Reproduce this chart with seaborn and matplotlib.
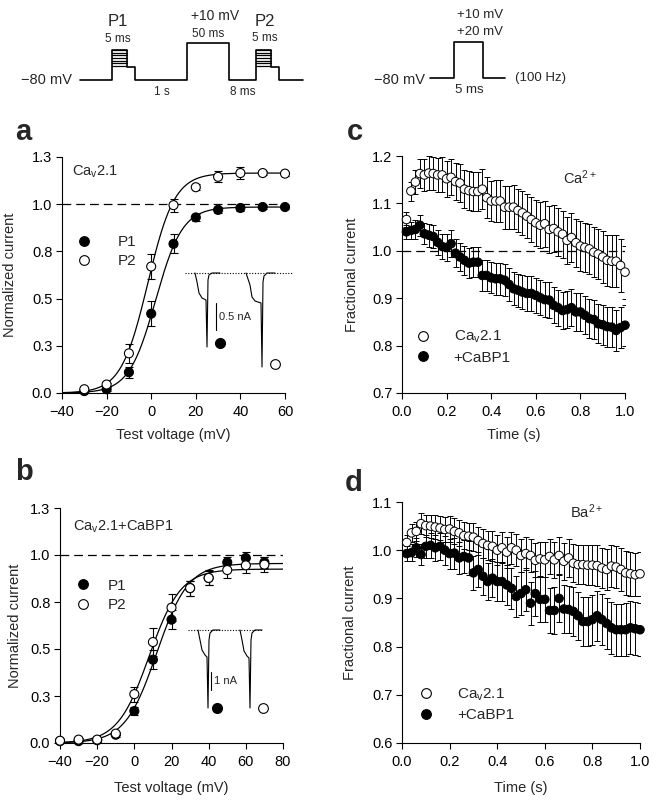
import numpy as np
import pandas as pd
import matplotlib
matplotlib.use("Agg")
import matplotlib.pyplot as plt
from matplotlib.lines import Line2D
import seaborn as sns

## data

# a: Cav2.1, normalized current vs test voltage
volt_a = [-30, -20, -10, 0, 10, 20, 30, 40, 50, 60]
a_p1 = [0.01, 0.02, 0.11, 0.42, 0.79, 0.93, 0.97, 0.98, 0.985, 0.985]
a_p1_err = [0.01, 0.01, 0.03, 0.065, 0.05, 0.02, 0.015, 0.015, 0.01, 0.01]
a_p2 = [0.02, 0.045, 0.21, 0.67, 0.995, 1.09, 1.145, 1.165, 1.165, 1.162]
a_p2_err = [0.01, 0.01, 0.05, 0.065, 0.035, 0.015, 0.03, 0.03, 0.01, 0.01]
fit_a_p1 = (0.985, 2.0, 6.0)    # Imax, V1/2, k of the Boltzmann fit
fit_a_p2 = (1.165, -1.5, 6.0)

# b: Cav2.1 + CaBP1
volt_b = [-40, -30, -20, -10, 0, 10, 20, 30, 40, 50, 60, 70]
b_p1 = [0.01, 0.01, 0.015, 0.044, 0.17, 0.443, 0.656, 0.824, 0.878, 0.961, 0.984, 0.961]
b_p1_err = [0.01, 0.01, 0.01, 0.01, 0.02, 0.05, 0.05, 0.04, 0.035, 0.03, 0.03, 0.03]
b_p2 = [0.012, 0.018, 0.018, 0.05, 0.26, 0.537, 0.72, 0.824, 0.878, 0.92, 0.945, 0.949]
b_p2_err = [0.01, 0.01, 0.01, 0.01, 0.04, 0.075, 0.07, 0.04, 0.04, 0.04, 0.04, 0.04]
fit_b_p1 = (0.955, 12.0, 8.5)
fit_b_p2 = (0.925, 8.0, 8.5)

# c, d: fractional current during 100 Hz train
time_s = [0.02, 0.04, 0.06, 0.08, 0.10, 0.12, 0.14, 0.16, 0.18, 0.20,
          0.22, 0.24, 0.26, 0.28, 0.30, 0.32, 0.34, 0.36, 0.38, 0.40,
          0.42, 0.44, 0.46, 0.48, 0.50, 0.52, 0.54, 0.56, 0.58, 0.60,
          0.62, 0.64, 0.66, 0.68, 0.70, 0.72, 0.74, 0.76, 0.78, 0.80,
          0.82, 0.84, 0.86, 0.88, 0.90, 0.92, 0.94, 0.96, 0.98, 1.00]

c_open = [1.066, 1.126, 1.145, 1.163, 1.160, 1.164, 1.163, 1.160, 1.160, 1.152,
          1.155, 1.146, 1.143, 1.130, 1.127, 1.125, 1.125, 1.130, 1.112, 1.105,
          1.105, 1.105, 1.092, 1.092, 1.092, 1.085, 1.080, 1.073, 1.066, 1.059,
          1.054, 1.057, 1.045, 1.047, 1.040, 1.035, 1.022, 1.028, 1.017, 1.010,
          1.007, 1.004, 0.997, 0.993, 0.987, 0.980, 0.978, 0.978, 0.969, 0.955]
c_open_err = [0.015, 0.020, 0.025, 0.030, 0.033, 0.035, 0.035, 0.036, 0.037, 0.038,
              0.038, 0.039, 0.040, 0.040, 0.041, 0.041, 0.042, 0.042, 0.043, 0.043,
              0.044, 0.044, 0.045, 0.045, 0.046, 0.046, 0.046, 0.047, 0.047, 0.048,
              0.048, 0.048, 0.049, 0.049, 0.050, 0.050, 0.050, 0.051, 0.051, 0.052,
              0.052, 0.052, 0.053, 0.053, 0.054, 0.054, 0.055, 0.055, 0.056, 0.056]
c_filled = [1.040, 1.043, 1.045, 1.054, 1.036, 1.033, 1.030, 1.018, 1.009, 1.007,
            1.015, 0.995, 0.987, 0.980, 0.974, 0.976, 0.976, 0.948, 0.948, 0.943,
            0.941, 0.941, 0.938, 0.929, 0.920, 0.917, 0.913, 0.910, 0.910, 0.906,
            0.901, 0.897, 0.896, 0.885, 0.880, 0.874, 0.876, 0.880, 0.871, 0.871,
            0.864, 0.857, 0.855, 0.846, 0.844, 0.840, 0.839, 0.832, 0.838, 0.843]
c_filled_err = [0.015, 0.018, 0.020, 0.022, 0.022, 0.024, 0.025, 0.026, 0.027, 0.028,
                0.028, 0.029, 0.030, 0.030, 0.031, 0.031, 0.032, 0.032, 0.033, 0.033,
                0.034, 0.034, 0.034, 0.035, 0.035, 0.035, 0.036, 0.036, 0.036, 0.037,
                0.037, 0.037, 0.038, 0.038, 0.038, 0.039, 0.039, 0.039, 0.040, 0.040,
                0.040, 0.041, 0.041, 0.041, 0.042, 0.042, 0.042, 0.043, 0.043, 0.043]

d_open = [1.016, 1.036, 1.039, 1.055, 1.051, 1.050, 1.048, 1.046, 1.043, 1.044,
          1.039, 1.036, 1.030, 1.029, 1.027, 1.020, 1.014, 1.010, 1.008, 1.000,
          1.005, 0.996, 1.005, 1.000, 0.989, 0.993, 0.989, 0.979, 0.982, 0.980,
          0.987, 0.980, 0.989, 0.977, 0.984, 0.973, 0.970, 0.970, 0.969, 0.969,
          0.968, 0.963, 0.960, 0.967, 0.965, 0.960, 0.953, 0.951, 0.949, 0.951]
d_open_err = [0.015, 0.018, 0.020, 0.022, 0.023, 0.024, 0.025, 0.025, 0.026, 0.026,
              0.027, 0.027, 0.028, 0.028, 0.029, 0.029, 0.030, 0.030, 0.031, 0.031,
              0.032, 0.032, 0.033, 0.033, 0.034, 0.034, 0.035, 0.035, 0.036, 0.036,
              0.037, 0.037, 0.038, 0.038, 0.039, 0.039, 0.040, 0.040, 0.041, 0.041,
              0.042, 0.042, 0.043, 0.043, 0.044, 0.044, 0.045, 0.045, 0.045, 0.045]
d_filled = [0.993, 0.995, 1.005, 0.991, 1.008, 1.010, 1.005, 1.008, 1.000, 0.993,
            0.994, 0.984, 0.987, 0.984, 0.953, 0.960, 0.946, 0.935, 0.942, 0.935,
            0.935, 0.928, 0.921, 0.904, 0.910, 0.918, 0.890, 0.910, 0.898, 0.898,
            0.875, 0.875, 0.900, 0.878, 0.877, 0.873, 0.864, 0.852, 0.852, 0.856,
            0.864, 0.856, 0.848, 0.839, 0.835, 0.835, 0.835, 0.839, 0.837, 0.835]
d_filled_err = [0.015, 0.018, 0.020, 0.022, 0.024, 0.026, 0.027, 0.028, 0.030, 0.031,
                0.032, 0.033, 0.034, 0.035, 0.036, 0.037, 0.038, 0.039, 0.040, 0.041,
                0.041, 0.042, 0.043, 0.043, 0.044, 0.045, 0.045, 0.046, 0.046, 0.047,
                0.047, 0.048, 0.048, 0.049, 0.049, 0.050, 0.050, 0.051, 0.051, 0.052,
                0.052, 0.053, 0.053, 0.054, 0.054, 0.054, 0.055, 0.055, 0.055, 0.055]

## style
sns.set_theme(style="ticks")
plt.rcParams["font.family"] = ["Liberation Sans", "DejaVu Sans"]
plt.rcParams["mathtext.fontset"] = "custom"
plt.rcParams["mathtext.rm"] = "Liberation Sans"
plt.rcParams["mathtext.default"] = "regular"
FS = 10.5
W, H = 658, 808

fig = plt.figure(figsize=(W / 100, H / 100), dpi=100)


def px_axes(x0, y0, x1, y1):
    # axes placed by pixel box (top-left origin)
    return fig.add_axes([x0 / W, 1 - y1 / H, (x1 - x0) / W, (y1 - y0) / H])


def boltz(v, imax, vh, k):
    return imax / (1 + np.exp((vh - v) / k))


def style_axes(ax):
    sns.despine(ax=ax)
    for s in ["left", "bottom"]:
        ax.spines[s].set_linewidth(0.8)
        ax.spines[s].set_color("black")
    ax.tick_params(direction="out", length=4, width=0.8, labelsize=FS, colors="black")
    ax.tick_params(axis="x", pad=5)
    ax.tick_params(axis="y", pad=3)


def legend(ax, labels, fills, x, y, pad):
    hs = [Line2D([], [], marker="o", ls="none", mfc=f, mec="black", mew=0.8, ms=7) for f in fills]
    ax.legend(hs, labels, loc="upper left", bbox_to_anchor=(x, y), frameon=False,
              fontsize=FS + 0.5, handlelength=1.0, handletextpad=pad, labelspacing=0.35,
              borderpad=0, borderaxespad=0)


def iv_panel(ax, volt, p1, p1e, p2, p2e, f1, f2, vmin, vmax):
    v = np.linspace(vmin, vmax, 300)
    curves = pd.DataFrame({
        "v": np.concatenate([v, v]),
        "i": np.concatenate([boltz(v, *f1), boltz(v, *f2)]),
        "set": ["P1"] * len(v) + ["P2"] * len(v),
    })
    sns.lineplot(data=curves, x="v", y="i", units="set", estimator=None,
                 color="black", lw=0.9, ax=ax)
    ax.axhline(1.0, color="black", lw=0.9, ls=(0, (7, 4)), zorder=1)
    ax.errorbar(volt, p1, yerr=p1e, fmt="none", ecolor="black", elinewidth=0.8,
                capsize=3, capthick=0.8, zorder=2, clip_on=False)
    ax.errorbar(volt, p2, yerr=p2e, fmt="none", ecolor="black", elinewidth=0.8,
                capsize=3, capthick=0.8, zorder=2, clip_on=False)
    pts = pd.DataFrame({"v": volt + volt, "i": p1 + p2,
                        "pulse": ["P1"] * len(volt) + ["P2"] * len(volt)})
    sns.scatterplot(data=pts, x="v", y="i", hue="pulse",
                    palette={"P1": "black", "P2": "white"}, edgecolor="black",
                    linewidth=0.8, s=42, legend=False, zorder=3, clip_on=False, ax=ax)
    ax.set_ylim(0, 1.25)
    ax.set_yticks([0, 0.25, 0.5, 0.75, 1.0, 1.25])
    ax.set_yticklabels(["0.0", "0.3", "0.5", "0.8", "1.0", "1.3"])
    ax.set_xlim(vmin, vmax)
    ax.set_xticks(np.arange(vmin, vmax + 1, 20))
    ax.set_xticklabels([str(t).replace("-", "\u2212") for t in np.arange(vmin, vmax + 1, 20)])
    ax.set_xlabel("Test voltage (mV)", fontsize=FS)
    ax.set_ylabel("Normalized current", fontsize=FS)
    style_axes(ax)


def train_panel(ax, op, ope, fi, fie, ylo, yhi, dashed):
    if dashed:
        ax.axhline(1.0, color="black", lw=0.9, ls=(0, (7, 4)), zorder=1)
    ax.errorbar(time_s, op, yerr=ope, fmt="none", ecolor="black", elinewidth=0.7,
                capsize=2.2, capthick=0.7, zorder=2)
    ax.errorbar(time_s, fi, yerr=fie, fmt="none", ecolor="black", elinewidth=0.7,
                capsize=2.2, capthick=0.7, zorder=2)
    pts = pd.DataFrame({"t": time_s + time_s, "f": op + fi,
                        "grp": ["Cav2.1"] * len(time_s) + ["+CaBP1"] * len(time_s)})
    sns.scatterplot(data=pts, x="t", y="f", hue="grp",
                    palette={"Cav2.1": "white", "+CaBP1": "black"}, edgecolor="black",
                    linewidth=0.7, s=38, legend=False, zorder=3, clip_on=False, ax=ax)
    ax.set_xlim(0, 1.0)
    ax.set_ylim(ylo, yhi)
    ax.set_xticks([0, 0.2, 0.4, 0.6, 0.8, 1.0])
    ax.set_xticklabels(["0.0", "0.2", "0.4", "0.6", "0.8", "1.0"])
    ax.set_yticks(np.round(np.arange(ylo, yhi + 0.01, 0.1), 1))
    ax.set_yticklabels(["%.1f" % t for t in np.arange(ylo, yhi + 0.01, 0.1)])
    ax.set_xlabel("Time (s)", fontsize=FS)
    ax.set_ylabel("Fractional current", fontsize=FS)
    style_axes(ax)


# a
ax_a = px_axes(62, 157, 285, 393)
iv_panel(ax_a, volt_a, a_p1, a_p1_err, a_p2, a_p2_err, fit_a_p1, fit_a_p2, -40, 60)
ax_a.text(0.045, 0.936, "Ca$_{v}$2.1", transform=ax_a.transAxes, fontsize=FS, va="center")
legend(ax_a, ["P1", "P2"], ["black", "white"], 0.065, 0.67, 1.7)
ax_a.xaxis.set_label_coords(0.5, -0.148)
ax_a.yaxis.set_label_coords(-0.202, 0.5)

# b
ax_b = px_axes(60, 508, 283, 743)
iv_panel(ax_b, volt_b, b_p1, b_p1_err, b_p2, b_p2_err, fit_b_p1, fit_b_p2, -40, 80)
ax_b.text(0.058, 0.919, "Ca$_{v}$2.1+CaBP1", transform=ax_b.transAxes, fontsize=FS, va="center")
legend(ax_b, ["P1", "P2"], ["black", "white"], 0.07, 0.70, 1.1)
ax_b.xaxis.set_label_coords(0.5, -0.162)
ax_b.yaxis.set_label_coords(-0.17, 0.5)

# c
ax_c = px_axes(402, 156, 625, 393)
train_panel(ax_c, c_open, c_open_err, c_filled, c_filled_err, 0.7, 1.2, True)
ax_c.text(0.722, 0.907, "Ca$^{2+}$", transform=ax_c.transAxes, fontsize=FS, va="center")
legend(ax_c, ["Ca$_{v}$2.1", "+CaBP1"], ["white", "black"], 0.06, 0.27, 1.5)
ax_c.xaxis.set_label_coords(0.5, -0.148)
ax_c.yaxis.set_label_coords(-0.193, 0.5)

# d
ax_d = px_axes(402, 502, 640, 743)
train_panel(ax_d, d_open, d_open_err, d_filled, d_filled_err, 0.6, 1.1, False)
ax_d.text(0.706, 0.958, "Ba$^{2+}$", transform=ax_d.transAxes, fontsize=FS, va="center")
legend(ax_d, ["Ca$_{v}$2.1", "+CaBP1"], ["white", "black"], 0.07, 0.235, 1.5)
ax_d.xaxis.set_label_coords(0.5, -0.158)
ax_d.yaxis.set_label_coords(-0.189, 0.5)

# panel letters
for lab, x, y in [("a", 15, 140), ("b", 15, 480), ("c", 347, 140), ("d", 345, 491)]:
    fig.text(x / W, 1 - y / H, lab, fontsize=21, fontweight="bold", va="baseline", ha="left")

## overlay: stimulus protocols and current trace insets (pixel coordinates)
ov = fig.add_axes([0, 0, 1, 1], zorder=10)
ov.set_xlim(0, W)
ov.set_ylim(H, 0)
ov.axis("off")
ov.patch.set_alpha(0)

# protocol left
prot_x = [80, 112, 112, 127, 127, 135, 135, 187, 187, 229, 229, 256, 256, 271, 271, 279, 279, 303]
prot_y = [80, 80, 50, 50, 67, 67, 80, 80, 43, 43, 80, 80, 50, 50, 67, 67, 80, 80]
ov.plot(prot_x, prot_y, color="black", lw=1.2)
hatch_y = [50, 52.7, 55.3, 58, 60.7, 63.3, 66]
for x0 in (112, 256):
    for hy in hatch_y:
        ov.plot([x0, x0 + 15], [hy, hy], color="black", lw=0.9)
ov.text(72, 80, "\u221280 mV", fontsize=10.5, ha="right", va="center")
ov.text(118, 22, "P1", fontsize=12, ha="center", va="center")
ov.text(118, 39, "5 ms", fontsize=8.5, ha="center", va="center")
ov.text(215, 16, "+10 mV", fontsize=10, ha="center", va="center")
ov.text(208, 34, "50 ms", fontsize=8.5, ha="center", va="center")
ov.text(265, 22, "P2", fontsize=12, ha="center", va="center")
ov.text(265, 38, "5 ms", fontsize=8.5, ha="center", va="center")
ov.text(162, 92, "1 s", fontsize=8.5, ha="center", va="center")
ov.text(243, 92, "8 ms", fontsize=8.5, ha="center", va="center")

# protocol right
ov.plot([430, 454, 454, 483, 483, 505], [78, 78, 42, 42, 78, 78], color="black", lw=1.2)
ov.text(425, 80, "\u221280 mV", fontsize=10.5, ha="right", va="center")
ov.text(480, 15, "+10 mV", fontsize=9.5, ha="center", va="center")
ov.text(480, 32, "+20 mV", fontsize=9.5, ha="center", va="center")
ov.text(469, 90, "5 ms", fontsize=9.5, ha="center", va="center")
ov.text(515, 78, "(100 Hz)", fontsize=9.5, ha="left", va="center")

# inset traces panel a
ov.plot([185, 293], [273, 273], color="black", lw=0.8, ls=(0, (1, 1.5)))
ov.plot([195, 197, 199, 202, 206, 207, 208, 209, 212, 220],
        [273, 282, 293, 298, 300, 347, 280, 275, 273, 273], color="black", lw=0.8)
ov.plot([246, 250, 252, 255, 261, 262, 263, 264, 267, 275],
        [273, 285, 297, 301, 303, 367, 282, 276, 273, 273], color="black", lw=0.8)
ov.plot([216, 216], [303, 330], color="black", lw=0.8)
ov.text(219, 317, "0.5 nA", fontsize=8, ha="left", va="center")
ov.plot([220], [343], "o", mfc="black", mec="black", ms=7)
ov.plot([275], [364], "o", mfc="white", mec="black", ms=7, mew=0.8)

# inset traces panel b
ov.plot([188, 263], [630, 630], color="black", lw=0.8, ls=(0, (1, 1.5)))
ov.plot([198, 200, 202, 205, 207, 208, 209, 210, 213, 220],
        [630, 640, 650, 655, 657, 708, 640, 633, 630, 630], color="black", lw=0.8)
ov.plot([240, 242, 244, 247, 249, 250, 251, 252, 255, 262],
        [630, 640, 651, 656, 658, 708, 640, 633, 630, 630], color="black", lw=0.8)
ov.plot([211, 211], [672, 690], color="black", lw=0.8)
ov.text(214, 681, "1 nA", fontsize=8, ha="left", va="center")
ov.plot([217], [708], "o", mfc="black", mec="black", ms=7)
ov.plot([263], [708], "o", mfc="white", mec="black", ms=7, mew=0.8)

fig.savefig("out.png", dpi=100)
